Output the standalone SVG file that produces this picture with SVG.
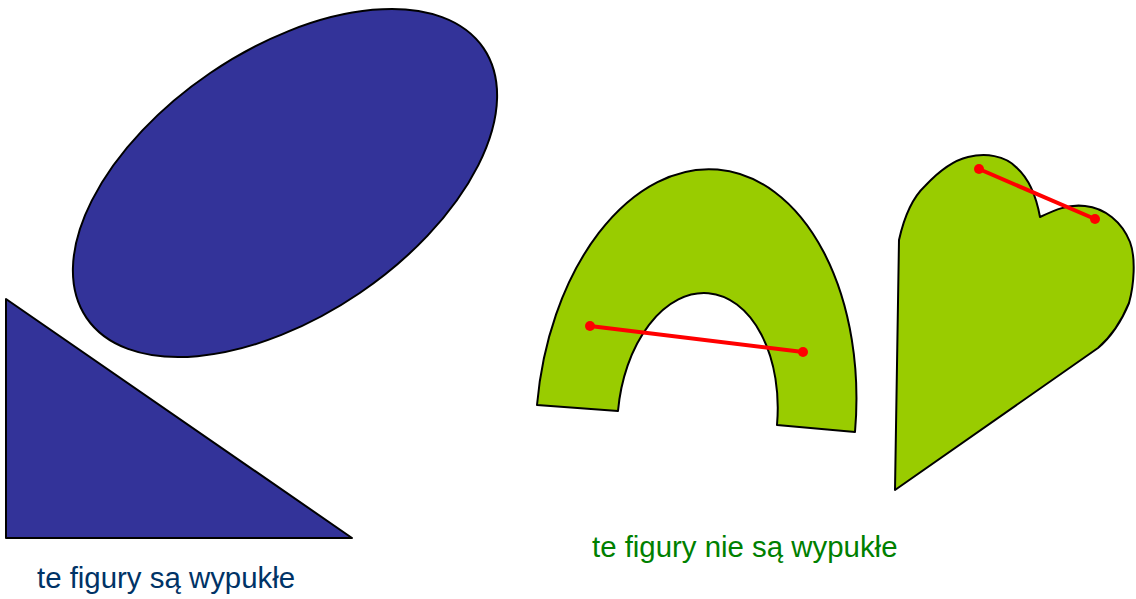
<svg xmlns="http://www.w3.org/2000/svg" width="1136" height="599" viewBox="0 0 1136 599">
<style>
.blue{fill:#333399;stroke:#000;stroke-width:2;stroke-linejoin:round}
.green{fill:#99cc00;stroke:#000;stroke-width:2;stroke-linejoin:round}
.seg{stroke:#ff0000;stroke-width:4;fill:none}
.dot{fill:#ff0000}
.lbl{font-family:"Liberation Sans",Arial,sans-serif;font-size:29.4px}
</style>
<rect width="1136" height="599" fill="#fff"/>
<g id="ellipse">
<ellipse class="blue" cx="285" cy="183" rx="240" ry="133" transform="rotate(-34.2 285 183)"/>
</g>
<g id="triangle">
<polygon class="blue" points="6,299 6,538 352,538"/>
</g>
<g id="arch">
<path class="green" d="M537,405 A159,249 5 1 1 855,432 L777,425 A79,124 5 1 0 618,411 Z"/>
</g>
<g id="heart">
<path class="green" d="M895,490 L899,240 C903,222 910,200 925,186 C940,170 955,160 968,157 C985,153 1005,155 1017,168 C1028,178 1036,195 1040,217 C1055,210 1068,204 1085,206 C1105,208 1122,222 1130,242 C1136,258 1134,285 1129,303 C1122,320 1112,336 1098,348 Z"/>
</g>
<g id="connectors">
<line class="seg" x1="590" y1="326" x2="803" y2="352"/>
<circle class="dot" cx="590" cy="326" r="5"/>
<circle class="dot" cx="803" cy="352" r="5"/>
<line class="seg" x1="979" y1="169" x2="1095" y2="219"/>
<circle class="dot" cx="979" cy="169" r="5"/>
<circle class="dot" cx="1095" cy="219" r="5"/>
</g>
<g id="labels">
<text class="lbl" x="37" y="588" fill="#003366">te figury są wypukłe</text>
<text class="lbl" x="592" y="557" fill="#008000">te figury nie są wypukłe</text>
</g>
</svg>
